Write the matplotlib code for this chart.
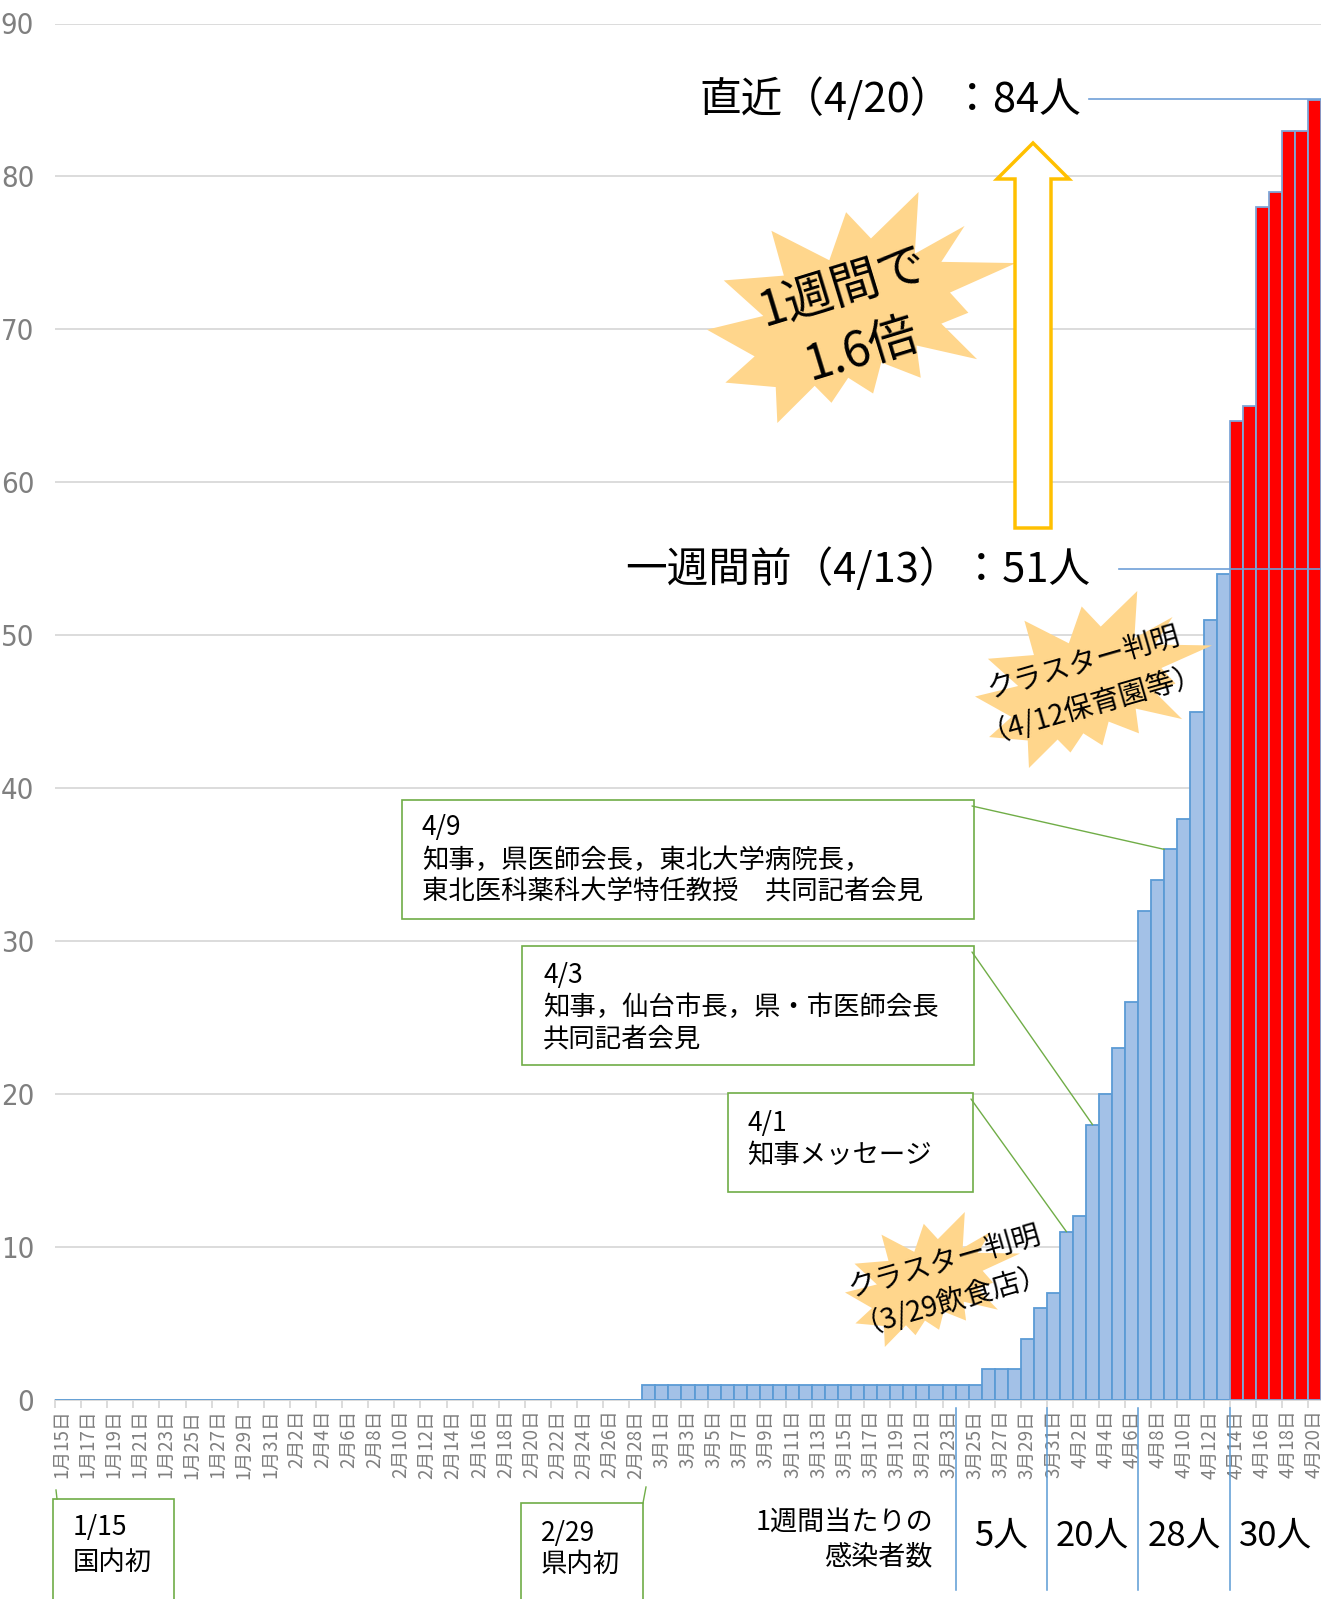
import matplotlib
matplotlib.use('Agg')
import matplotlib.pyplot as plt
import pandas as pd
from matplotlib.patches import Polygon, Rectangle, ConnectionPatch
from matplotlib.lines import Line2D

plt.rcParams['font.family'] = ['Noto Sans CJK JP', 'DejaVu Sans']

W, H = 1321, 1599

# daily cumulative cases, 1/15 .. 4/20
dates = pd.date_range('2020-01-15', '2020-04-20')
cases = ([0] * 45 + [1] * 26 + [2] * 3 +
         [4, 6, 7, 11, 12, 18, 20, 23, 26, 32, 34, 36, 38, 45, 51, 54] +
         [64, 65, 78, 79, 83, 83, 85])
recent_days = 7
tick_labels = [f'{d.month}月{d.day}日' for d in dates]

week_bounds = ['2020-03-24', '2020-03-31', '2020-04-07', '2020-04-14']
week_counts = ['5人', '20人', '28人', '30人']

events = [
    ('2020-04-09', ['4/9', '知事，県医師会長，東北大学病院長，', '東北医科薬科大学特任教授　共同記者会見']),
    ('2020-04-03', ['4/3', '知事，仙台市長，県・市医師会長', '共同記者会見']),
    ('2020-04-01', ['4/1', '知事メッセージ']),
]

# Excel "explosion 2" outline on a 21600 grid
SEAL2 = [(11462, 4342), (14790, 0), (14525, 5777), (18007, 3172), (16380, 6532),
         (21600, 6645), (16985, 9402), (18270, 11290), (16380, 12310), (18877, 15632),
         (14640, 14350), (14942, 17370), (12180, 15935), (11612, 18842), (9872, 17370),
         (8700, 19712), (7527, 18125), (4917, 21600), (4805, 18240), (1285, 17825),
         (3330, 15370), (0, 12877), (3935, 11592), (1172, 8270), (5372, 7817),
         (4502, 3625), (8550, 6382), (9722, 1887)]


def fp(x, y):
    return x / W, 1 - y / H


fig = plt.figure(figsize=(W / 100, H / 100), dpi=100)
ax = fig.add_axes([55 / W, 1 - 1400 / H, (W - 55) / W, (1400 - 23.5) / H])

x = list(range(len(cases)))
n = len(cases)
face = ['#a3c1e7'] * (n - recent_days) + ['#ff0000'] * recent_days
edge = ['#5b9bd5'] * (n - recent_days) + ['#7ea6d8'] * recent_days
ax.bar(x, cases, width=1.0, color=face, edgecolor=edge, linewidth=1.3, zorder=3)

ax.set_xlim(-0.5, n - 0.5)
ax.set_ylim(0, 90)
ax.set_yticks(range(0, 91, 10))
ax.yaxis.grid(True, color='#d9d9d9', linewidth=1.3, zorder=0)
ax.set_axisbelow(True)
for s in ['top', 'right', 'left']:
    ax.spines[s].set_visible(False)
ax.spines['bottom'].set_color('#d9d9d9')
ax.spines['bottom'].set_linewidth(1.3)
ax.tick_params(axis='y', length=0, pad=15, labelcolor='#7f7f7f')
for lab in ax.get_yticklabels():
    lab.set_fontfamily(['Liberation Sans Narrow', 'DejaVu Sans'])
    lab.set_fontstretch('condensed')
    lab.set_fontsize(21)

ax.set_xticks(x[::2])
ax.set_xticklabels(tick_labels[::2], rotation=90, fontsize=13.5, color='#7f7f7f')
ax.set_xticks([i - 0.5 for i in x[::2]], minor=True)
ax.tick_params(axis='x', which='major', length=0, pad=7)
ax.tick_params(axis='x', which='minor', length=6, color='#d9d9d9', width=1.3)


def burst(x0, y0, x1, y1):
    pts = [fp(x0 + (x1 - x0) * a / 21600, y0 + (y1 - y0) * b / 21600) for a, b in SEAL2]
    fig.add_artist(Polygon(pts, closed=True, transform=fig.transFigure,
                           facecolor='#ffd68c', edgecolor='none', zorder=4))


def ftext(px, py, s, **kw):
    kw.setdefault('zorder', 6)
    fig.text(*fp(px, py), s, **kw)


def box(x0, y0, x1, y1):
    bx, by = fp(x0, y1)
    fig.add_artist(Rectangle((bx, by), (x1 - x0) / W, (y1 - y0) / H, transform=fig.transFigure,
                             facecolor='white', edgecolor='#70ad47', linewidth=1.2, zorder=5))


def gline(pts, color='#70ad47', lw=1.0):
    xs = [p[0] / W for p in pts]
    ys = [1 - p[1] / H for p in pts]
    fig.add_artist(Line2D(xs, ys, transform=fig.transFigure, color=color, linewidth=lw, zorder=5))


# headline values and guide lines
ftext(1081, 99, '直近（4/20）：84人', fontsize=30, ha='right', va='center')
ftext(1090, 569, '一週間前（4/13）：51人', fontsize=30, ha='right', va='center')
gline([(1089, 99), (W, 99)], color='#6fa0d8', lw=1.2)
gline([(1119, 569), (W, 569)], color='#6fa0d8', lw=1.2)

# up arrow
arrow = [(1033, 143), (1069, 179), (1051, 179), (1051, 528), (1015, 528), (1015, 179), (997, 179)]
fig.add_artist(Polygon([fp(*p) for p in arrow], closed=True, transform=fig.transFigure,
                       facecolor='white', edgecolor='#ffc000', linewidth=2.5, zorder=5))

# explosions
burst(707, 192, 1016, 423)
ftext(843, 288, '1週間で', fontsize=35, rotation=17, ha='center', va='center', rotation_mode='anchor')
ftext(862, 350, '1.6倍', fontsize=35, rotation=17, ha='center', va='center', rotation_mode='anchor')

burst(975, 591, 1212, 768)
ftext(1083, 663, 'クラスター判明', fontsize=20.5, rotation=16, ha='center', va='center', rotation_mode='anchor')
ftext(1091, 701, '（4/12保育園等）', fontsize=20.5, rotation=16, ha='center', va='center', rotation_mode='anchor')

burst(845, 1212, 1020, 1347)
ftext(944, 1262, 'クラスター判明', fontsize=20.5, rotation=16, ha='center', va='center', rotation_mode='anchor')
ftext(950, 1297, '（3/29飲食店）', fontsize=20.5, rotation=16, ha='center', va='center', rotation_mode='anchor')

# event boxes with leaders to bars
box_geo = [(402, 800, 974, 919, 422, 828), (522, 946, 974, 1065, 543, 975), (728, 1093, 973, 1192, 747, 1123)]
leader_dx = [-0.5, 0.0, 0.0]
narrow = ['Liberation Sans Narrow', 'Noto Sans CJK JP']
for (day, lines), (x0, y0, x1, y1, tx, ty), dx in zip(events, box_geo, leader_dx):
    box(x0, y0, x1, y1)
    for k, line in enumerate(lines):
        fam = narrow if k == 0 else None
        ftext(tx, ty + 32 * k, line, fontsize=19, ha='left', va='center', family=fam)
    i = list(dates).index(pd.Timestamp(day))
    con = ConnectionPatch(xyA=fp(x1 - 2, y0 + 6), coordsA=fig.transFigure,
                          xyB=(i + dx, cases[i]), coordsB=ax.transData,
                          color='#70ad47', linewidth=1.0, zorder=5)
    fig.add_artist(con)

# first cases boxes under the axis
box(53, 1499, 174, 1640)
ftext(73, 1528, '1/15', fontsize=19, ha='left', va='center', family=narrow)
ftext(73, 1562, '国内初', fontsize=19, ha='left', va='center')
gline([(56, 1490), (57, 1499)])
box(521, 1503, 643, 1640)
ftext(541, 1533, '2/29', fontsize=19, ha='left', va='center', family=narrow)
ftext(541, 1564, '県内初', fontsize=19, ha='left', va='center')
gline([(643, 1503), (646, 1487)])

# weekly counts
ftext(933, 1522, '1週間当たりの', fontsize=19.5, ha='right', va='center')
ftext(933, 1557, '感染者数', fontsize=19.5, ha='right', va='center')
bound_idx = [list(dates).index(pd.Timestamp(d)) - 0.5 for d in week_bounds]
for b in bound_idx:
    ax.plot([b, b], [-0.5, -12.4], color='#5b9bd5', linewidth=1.1, clip_on=False, zorder=5)
for k, label in enumerate(week_counts):
    left = bound_idx[k]
    right = bound_idx[k + 1] if k + 1 < len(bound_idx) else n - 0.5
    ax.text((left + right) / 2, -8.9, label, fontsize=25, ha='center', va='center')

fig.savefig('out.png', dpi=100)
